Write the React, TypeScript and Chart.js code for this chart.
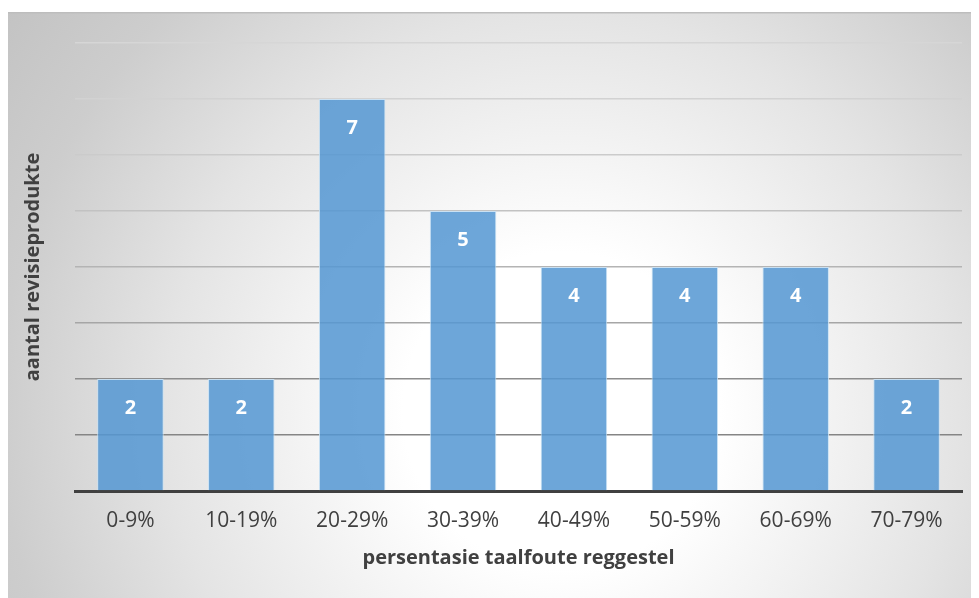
import React, { useEffect, useRef } from "react";
import { Chart, registerables } from "chart.js";

Chart.register(...registerables);

const categories = ["0-9%", "10-19%", "20-29%", "30-39%", "40-49%", "50-59%", "60-69%", "70-79%"];
const counts = [2, 2, 7, 5, 4, 4, 4, 2];
const yMax = 8;
const xTitle = "persentasie taalfoute reggestel";
const yTitle = "aantal revisieprodukte";

const FONT = "'Open Sans', 'Noto Sans', sans-serif";

// grid line shade per value: darker near the baseline, lighter towards the top
const gridShades = ["rgba(0,0,0,0)", "#858585", "#8c8c8c", "#a6a6a6", "#b4b4b4", "#c2c2c2", "#cbcbcb", "#d2d2d2", "#d6d6d6"];

const backgroundPlugin = {
  id: "panelBackground",
  beforeDraw(chart: any) {
    const { ctx, width, height } = chart;
    ctx.save();
    const cx = width * 0.57;
    const cy = height * 0.68;
    const g = ctx.createRadialGradient(cx, cy, 0, cx, cy, 720);
    g.addColorStop(0, "#ffffff");
    g.addColorStop(0.22, "#ffffff");
    g.addColorStop(0.55, "#e4e4e4");
    g.addColorStop(0.78, "#cdcdcd");
    g.addColorStop(1, "#c0c0c0");
    ctx.fillStyle = g;
    ctx.fillRect(0, 0, width, height);
    ctx.fillStyle = "#bdbdbd";
    ctx.fillRect(0, 0, width, 1.5);
    ctx.restore();
  },
};

const valueLabelPlugin = {
  id: "valueLabels",
  afterDatasetsDraw(chart: any) {
    const { ctx } = chart;
    const meta = chart.getDatasetMeta(0);
    ctx.save();
    ctx.fillStyle = "#ffffff";
    ctx.font = `bold 20px ${FONT}`;
    ctx.textAlign = "center";
    ctx.textBaseline = "middle";
    meta.data.forEach((bar: any, i: number) => {
      ctx.fillText(String(counts[i]), bar.x, bar.y + 29);
    });
    ctx.restore();
  },
};

export default function App() {
  const canvasRef = useRef<HTMLCanvasElement | null>(null);

  useEffect(() => {
    if (!canvasRef.current) return;
    const chart = new Chart(canvasRef.current, {
      type: "bar",
      data: {
        labels: categories,
        datasets: [
          {
            data: counts,
            backgroundColor: "rgba(84,150,210,0.85)",
            borderColor: "rgba(200,225,245,0.9)",
            borderWidth: 1,
            categoryPercentage: 1,
            barPercentage: 0.6,
          },
        ],
      },
      options: {
        animation: false,
        responsive: false,
        maintainAspectRatio: false,
        layout: { padding: { left: 13, right: 17, top: 31, bottom: 14 } },
        plugins: {
          legend: { display: false },
          tooltip: { enabled: false },
        },
        scales: {
          x: {
            grid: { display: false, drawTicks: false },
            border: { display: true, color: "#404040", width: 3 },
            ticks: {
              color: "#404040",
              font: { family: FONT, size: 21 },
              padding: 17,
            },
            title: {
              display: true,
              text: xTitle,
              color: "#404040",
              font: { family: FONT, size: 20, weight: "bold" },
              padding: { top: 8, bottom: 14 },
            },
            afterFit(scale: any) {
              scale.height = 93;
            },
          },
          y: {
            min: 0,
            max: yMax,
            ticks: { stepSize: 1, display: false },
            grid: {
              drawTicks: false,
              lineWidth: 1.5,
              color: (c: any) => gridShades[c.tick ? c.tick.value : 0] || "#d0d0d0",
            },
            border: { display: false },
            title: {
              display: true,
              text: yTitle,
              color: "#404040",
              font: { family: FONT, size: 20, weight: "bold" },
              padding: 0,
            },
            afterFit(scale: any) {
              scale.width = 54;
            },
          },
        },
      },
      plugins: [backgroundPlugin, valueLabelPlugin],
    });
    return () => chart.destroy();
  }, []);

  return (
    <div style={{ paddingTop: 4 }}>
      <canvas ref={canvasRef} width={971} height={586} style={{ display: "block" }} />
    </div>
  );
}
